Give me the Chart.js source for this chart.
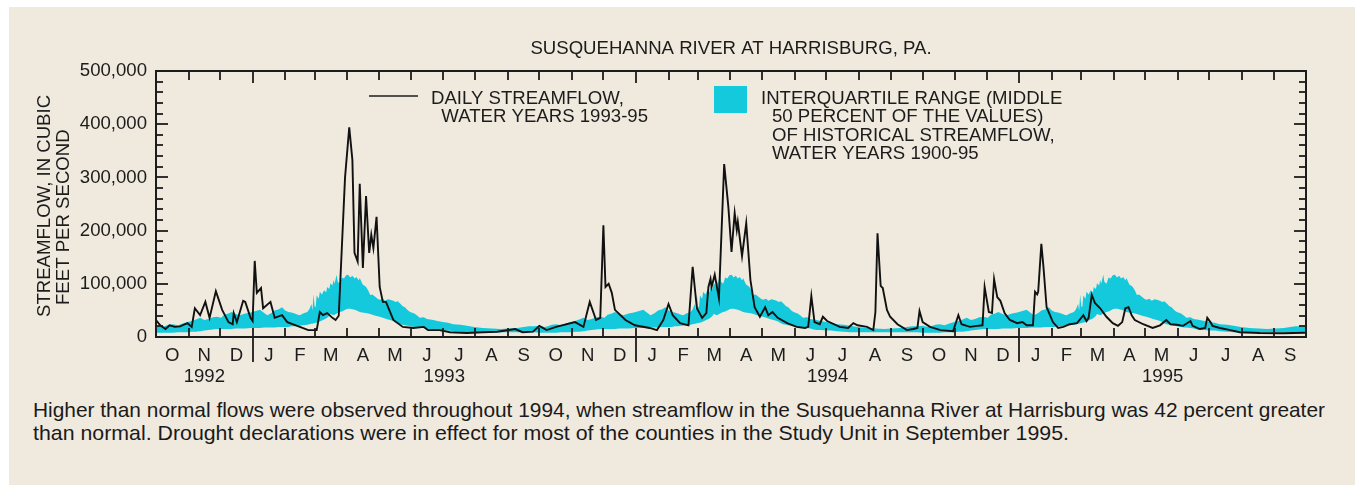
<!DOCTYPE html>
<html>
<head>
<meta charset="utf-8">
<script src="https://cdn.jsdelivr.net/npm/chart.js@4.4.0/dist/chart.umd.min.js"></script>
<style>
body{margin:0;background:#fff;width:1355px;height:485px;overflow:hidden;position:relative;font-family:"Liberation Sans",Arial,sans-serif;}
#panel{position:absolute;left:9px;top:7px;width:1346px;height:478px;background:#efe9de;}
#myChart{position:absolute;left:0;top:0;}
.cap{position:absolute;left:33px;font-size:21px;line-height:22.5px;color:#1a1a1a;white-space:nowrap;transform-origin:0 0;}
</style>
</head>
<body>
<div id="panel"></div>
<canvas id="myChart" width="1355" height="395"></canvas>
<div class="cap" id="cap1" style="top:399px">Higher than normal flows were observed throughout 1994, when streamflow in the Susquehanna River at Harrisburg was 42 percent greater</div>
<div class="cap" id="cap2" style="top:422px">than normal. Drought declarations were in effect for most of the counties in the Study Unit in September 1995.</div>
<script>
// daily streamflow, day 0 = Oct 1 1992, values in thousand cfs
var flowDay = [0,4,9,13,18,23,30,34,37,42,47,51,57,63,69,73,74,77,83,85,90,92,94,96,100,102,109,113,120,125,137,145,153,156,159,163,168,171,174,180,184,187,189,192,194,197,200,203,205,207,210,213,216,219,221,226,235,245,255,259,270,280,296,311,325,342,349,359,365,372,
  381,399,407,413,419,423,426,428,431,434,437,447,456,470,477,483,488,492,499,507,511,515,520,524,526,528,529,532,536,541,545,548,551,553,554,558,562,566,570,575,580,583,587,592,601,610,618,621,624,627,632,635,639,651,659,664,668,677,683,685,687,690,692,696,699,706,715,721,725,727,730,737,747,759,764,767,775,782,787,789,793,796,798,801,804,808,813,820,825,829,835,837,839,840,843,845,848,854,859,864,870,877,883,886,888,891,894,899,905,911,916,920,923,926,929,932,940,949,956,962,966,972,978,985,987,994,999,1001,1004,1006,1013,1023,1032,1051,1073,1094];
var flowKcfs = [32,22,15,22,19,20,26,19,54,41,66,36,86,51,28,24,45,28,68,66,36,30,143,83,92,54,66,36,41,28,19,13,13,47,41,45,36,32,40,300,394,333,158,142,288,130,265,158,192,167,226,94,66,66,56,32,19,17,19,13,13,9,7.5,9,10,15,9,10,21,13,
  19,28,19,66,32,36,210,94,100,83,51,32,22,17,13,32,62,41,26,22,132,54,36,45,94,109,94,117,73,325,244,160,233,201,216,152,214,107,56,38,56,41,47,36,26,19,17,19,77,28,24,38,30,19,17,26,22,19,13,47,195,96,92,51,38,24,13,15,17,49,28,19,13,11,41,24,19,21,22,94,47,45,109,75,68,45,32,26,28,22,22,85,80,85,175,132,56,28,17,19,24,26,41,30,36,79,64,54,38,26,21,28,54,56,41,32,24,17,22,32,24,23,21,30,21,15,17,36,28,21,17,13,9,7.5,7,8];

// interquartile range by day of water year (same every year), thousand cfs
var bandDay = [0,5,8,12,16,21,26,30,34,38, 42,46,50,54,58,62,65,69,72,76, 80,85,90,95,99,103,106,110,113,117,
  120,123,126,129,132,135,137,140,144,146, 148,149,150,151,152,153,155,156,158,160, 162,163,165,166,168,169,170,172,173,175,
  177,179,181,183,185,187,189,191,193,194, 196,197,199,200,202,204,206,209,211,213, 216,218,221,223,226,228,230,232,235,237,
  240,242,246,249,251,255,258,261,264,268, 273,278,283,290,296,303,311,320,328,336, 344,350,355,360,365];
var bandLow = [8,8,8,8,8,9,9,9,10,10, 11,12,13,14,15,15,15,15,15,16, 16,16,17,17,17,18,18,18,18,19,
  19,19,19,20,20,21,21,22,23,24, 25,25,26,26,27,27,28,29,31,33, 35,36,40,43,42,41,42,44,45,47,
  48,50,52,53,53,52,51,50,48,47, 46,46,45,45,44,43,42,40,39,38, 36,35,33,32,30,28,26,24,23,22,
  21,20,19,18,18,17,16,14,13,13, 12,12,11,10,9,9,9,9,9,9, 9,9,9,9,8];
var bandHigh = [21,19,20,23,24,22,26,28,30,33, 36,32,34,37,38,36,42,44,47,43, 41,44,46,49,51,45,41,45,50,52,
  56,50,47,46,44,42,41,44,47,52, 62,50,80,58,56,78,72,85,80,88, 84,94,90,101,97,107,100,117,104,100,
  112,110,116,117,112,115,110,113,106,111, 102,98,96,94,88,79,80,75,72,70, 72,68,71,70,68,66,67,64,58,56,
  50,47,44,40,36,37,34,33,32,30, 28,27,24,23,21,19,17,16,15,16, 17,19,20,20,21];

var monthLabels = ['O','N','D','J','F','M','A','M','J','J','A','S'];
var monthDays = [31,30,31,31,28,31,30,31,30,31,31,30];
var yearLabels = ['1992','1993','1994','1995'];
var yearFrom = [0,92,457,822];
var yearTo = [92,457,822,1095];
var yTicks = [0,100000,200000,300000,400000,500000];

var titleText = 'SUSQUEHANNA RIVER AT HARRISBURG, PA.';
var yTitle = ['STREAMFLOW, IN CUBIC','FEET PER SECOND'];
var lineLegend = ['DAILY STREAMFLOW,','  WATER YEARS 1993-95'];
var bandLegend = ['INTERQUARTILE RANGE (MIDDLE','50 PERCENT OF THE VALUES)','OF HISTORICAL STREAMFLOW,','WATER YEARS 1900-95'];

var FONT = '"Liberation Sans", Arial, sans-serif';
var FS = 18.6;
var INK = '#1c1c1c';
var CYAN = '#14c9dc';
Chart.defaults.font.family = FONT;

var flowPts = flowDay.map(function (d, i) { return {x: d, y: flowKcfs[i] * 1000}; });
var lowPts = [], highPts = [];
for (var yr = 0; yr < 3; yr++) {
  bandDay.forEach(function (d, i) {
    lowPts.push({x: d + 365 * yr, y: bandLow[i] * 1000});
    highPts.push({x: d + 365 * yr, y: bandHigh[i] * 1000});
  });
}

function seg(ctx, x1, y1, x2, y2) {
  ctx.beginPath(); ctx.moveTo(x1, y1); ctx.lineTo(x2, y2); ctx.stroke();
}

// frame, inward ticks, month/year labels, title and legend
const decor = {
  id: 'decor',
  afterDraw: function (chart) {
    var ctx = chart.ctx, a = chart.chartArea, xs = chart.scales.x, ys = chart.scales.y;
    ctx.save();
    ctx.strokeStyle = INK; ctx.fillStyle = INK; ctx.lineWidth = 2;
    ctx.strokeRect(a.left, a.top, a.right - a.left, a.bottom - a.top);
    ctx.lineWidth = 1.8;
    for (var v = 20000; v < 500000; v += 20000) {
      var py = Math.round(ys.getPixelForValue(v));
      var len = v % 100000 === 0 ? 12 : 7;
      seg(ctx, a.left, py, a.left + len, py);
      seg(ctx, a.right, py, a.right - len, py);
    }
    var d = 0;
    ctx.font = FS + 'px ' + FONT; ctx.textAlign = 'center'; ctx.textBaseline = 'alphabetic';
    for (var y = 0; y < 3; y++) {
      for (var m = 0; m < 12; m++) {
        var mid = xs.getPixelForValue(d + monthDays[m] / 2);
        ctx.fillText(monthLabels[m], mid, 361);
        d += monthDays[m];
        if (d >= 1095) break;
        var px = Math.round(xs.getPixelForValue(d));
        var isYear = monthLabels[m] === 'D';
        seg(ctx, px, a.bottom, px, a.bottom - 9);
        if (isYear) seg(ctx, px, a.bottom, px, a.bottom + 25);
        seg(ctx, px, a.top, px, a.top + (isYear ? 12 : 9));
      }
    }
    yearLabels.forEach(function (t, i) {
      ctx.fillText(t, (xs.getPixelForValue(yearFrom[i]) + xs.getPixelForValue(yearTo[i])) / 2, 382);
    });
    ctx.fillText(titleText, (a.left + a.right) / 2, 54);

    // legend
    ctx.textAlign = 'left';
    ctx.lineWidth = 1.6;
    seg(ctx, 369, 96, 418, 96);
    ctx.fillText(lineLegend[0], 431, 104);
    ctx.fillText(lineLegend[1], 431, 122);
    ctx.fillStyle = CYAN;
    ctx.fillRect(714, 86, 33, 27);
    ctx.fillStyle = INK;
    ctx.fillText(bandLegend[0], 761, 104);
    ctx.fillText(bandLegend[1], 772, 122);
    ctx.fillText(bandLegend[2], 772, 140.5);
    ctx.fillText(bandLegend[3], 772, 159);

    // y axis title
    ctx.save(); ctx.translate(50, 317); ctx.rotate(-Math.PI / 2);
    ctx.fillText(yTitle[0], 0, 0); ctx.restore();
    ctx.save(); ctx.translate(68.5, 305); ctx.rotate(-Math.PI / 2);
    ctx.fillText(yTitle[1], 0, 0); ctx.restore();
    ctx.restore();
  }
};

const config = {
  type: 'line',
  data: {
    datasets: [{
      label: 'Daily streamflow',
      data: flowPts,
      borderColor: '#111',
      borderWidth: 1.9,
      pointRadius: 0,
      tension: 0,
      fill: false
    }, {
      label: 'Upper quartile',
      data: highPts,
      borderColor: 'rgba(0,0,0,0)',
      borderWidth: 0,
      backgroundColor: CYAN,
      pointRadius: 0,
      fill: '+1'
    }, {
      label: 'Lower quartile',
      data: lowPts,
      borderColor: 'rgba(0,0,0,0)',
      borderWidth: 0,
      pointRadius: 0,
      fill: false
    }]
  },
  options: {
    responsive: false,
    animation: false,
    layout: { padding: { top: 71, right: 49, left: 0, bottom: 0 } },
    plugins: { legend: { display: false }, tooltip: { enabled: false }, title: { display: false } },
    scales: {
      x: {
        type: 'linear', min: 0, max: 1095,
        ticks: { display: false },
        grid: { display: false, drawTicks: false },
        border: { display: false },
        afterFit: function (s) { s.height = 58; }
      },
      y: {
        min: 0, max: 500000,
        afterBuildTicks: function (s) { s.ticks = yTicks.map(function (v) { return {value: v}; }); },
        ticks: {
          font: { size: FS }, color: INK, padding: 9,
          callback: function (v) { return v.toLocaleString('en-US'); }
        },
        grid: { display: false, drawTicks: false },
        border: { display: false },
        afterFit: function (s) { s.width = 156; }
      }
    }
  },
  plugins: [decor]
};

const myChart = new Chart(document.getElementById('myChart'), config);

// squeeze the caption lines to the widths they have in the figure
var c1 = document.getElementById('cap1'), c2 = document.getElementById('cap2');
c1.style.transform = 'scaleX(' + (1292 / c1.getBoundingClientRect().width) + ')';
c2.style.transform = 'scaleX(' + (1036 / c2.getBoundingClientRect().width) + ')';
</script>
</body>
</html>
